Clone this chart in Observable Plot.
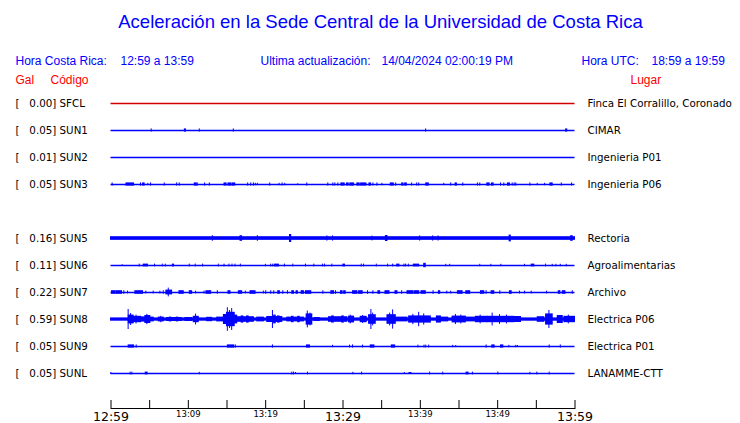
<!DOCTYPE html>
<html>
<head>
<meta charset="utf-8">
<script src="https://cdn.jsdelivr.net/npm/d3@7"></script>
<script src="https://cdn.jsdelivr.net/npm/@observablehq/plot@0.6"></script>
<style>
  html, body { margin: 0; padding: 0; background: #fff; }
  #chart { width: 740px; height: 423px; }
</style>
</head>
<body>
<div id="chart"></div>
<script>
// ---------- text ----------
const title = "Aceleración en la Sede Central de la Universidad de Costa Rica";
const horaCR = ["Hora Costa Rica:", "12:59 a 13:59"];
const update = ["Ultima actualización:", "14/04/2024 02:00:19 PM"];
const horaUTC = ["Hora UTC:", "18:59 a 19:59"];
const colHeads = ["Gal", "Código", "Lugar"];

// ---------- stations ----------
const codes  = ["SFCL", "SUN1", "SUN2", "SUN3", "SUN4", "SUN5", "SUN6", "SUN7", "SUN8", "SUN9", "SUNL"];
const peaks  = [0.00, 0.05, 0.01, 0.05, null, 0.16, 0.11, 0.22, 0.59, 0.05, 0.05];
const places = ["Finca El Corralillo, Coronado", "CIMAR", "Ingenieria P01", "Ingenieria P06", null,
                "Rectoria", "Agroalimentarias", "Archivo", "Electrica P06", "Electrica P01", "LANAMME-CTT"];

// ---------- time axis (minutes after 12:59) ----------
const tickLabels = ["12:59", "13:09", "13:19", "13:29", "13:39", "13:49", "13:59"];
const tickMinutes = [0, 5, 10, 15, 20, 25, 30, 35, 40, 45, 50, 55, 60];

// ---------- trace bursts: [start min, end min, half amplitude (Gal)] ----------
const sfcl = [];
const sun1 = [[5.26,5.26,.08],[9.55,9.7,.08],[11.48,11.48,.08],[15.88,15.88,.08],[40.75,40.75,.08],[58.85,59.0,.08]];
const sun2 = [];
const sun3 = [[0.21,0.21,.08],[2.0,2.98,.08],[3.88,3.88,.08],[4.15,4.35,.08],[4.83,4.83,.06],[5.18,5.18,.08],
  [6.95,6.95,.08],[8.55,8.55,.08],[8.89,8.89,.08],[10.83,11.09,.08],[11.22,11.22,.08],[12.17,12.17,.08],
  [12.78,12.78,.08],[14.68,14.94,.08],[15.19,15.54,.08],[15.71,16.06,.08],[17.74,17.74,.08],[18.13,18.13,.08],
  [18.48,18.48,.08],[18.73,18.73,.06],[18.99,18.99,.06],[20.59,20.59,.08],[21.8,21.8,.06],[22.19,22.19,.08],
  [22.53,22.53,.06],[24.22,24.22,.04],[25.38,25.38,.08],[28.1,28.1,.08],[28.75,28.75,.08],[29.01,29.01,.08],
  [29.4,29.4,.08],[29.79,30.22,.08],[30.52,30.74,.08],[30.95,31.43,.08],[31.86,32.16,.08],[32.34,33.03,.08],
  [33.42,33.63,.08],[33.93,33.93,.08],[34.45,34.45,.08],[35.1,35.1,.06],[36.18,36.57,.08],[36.87,36.87,.08],
  [37.65,37.82,.08],[38.03,38.25,.08],[38.94,38.94,.08],[39.59,39.59,.08],[39.85,39.85,.08],[40.76,41.1,.08],
  [43.09,43.09,.06],[43.99,43.99,.08],[44.56,44.73,.08],[45.55,45.55,.08],[47.45,47.45,.08],[47.75,47.75,.08],
  [48.66,48.96,.08],[49.26,49.48,.08],[50.43,50.43,.08],[50.86,50.86,.08],[51.33,51.59,.08],[51.94,51.94,.08],
  [52.2,52.2,.08],[52.41,52.41,.08],[54.23,54.23,.08],[55.18,55.18,.06],[56.13,56.13,.06],[56.82,57.12,.08],
  [58.29,58.29,.08],[59.62,59.62,.08]];
const sun4 = null;
const sun5 = [[0,60,.09],[13.17,13.17,.14],[16.75,16.95,.14],[18.99,18.99,.14],[23.15,23.3,.2],[27.98,27.98,.13],
  [28.71,28.71,.13],[33.8,33.8,.12],[35.55,35.75,.15],[39.98,39.98,.13],[41.66,41.66,.13],[42.35,42.35,.13],
  [51.55,51.7,.17],[59.5,59.7,.14]];
const sun6 = [[1.51,1.51,.04],[3.71,3.71,.07],[4.23,4.79,.07],[5.7,5.7,.07],[6.69,6.69,.07],[7.08,7.08,.07],
  [8.0,8.15,.07],[10.19,10.19,.07],[10.96,10.96,.07],[11.91,11.91,.07],[13.94,13.94,.07],[14.68,14.68,.07],
  [15.32,15.32,.07],[15.71,15.71,.07],[16.1,16.1,.07],[16.79,16.79,.07],[20.03,20.03,.06],[20.72,20.72,.07],
  [20.98,20.98,.07],[21.2,21.71,.07],[22.49,22.49,.07],[23.57,23.57,.07],[25.21,25.21,.07],[26.29,26.29,.07],
  [27.41,27.41,.07],[27.67,27.67,.07],[28.62,28.62,.07],[30.05,30.26,.07],[32.42,32.42,.07],[32.72,32.72,.07],
  [34.37,34.37,.07],[35.83,35.83,.07],[36.48,36.48,.07],[37.0,37.3,.07],[37.95,37.95,.07],[38.16,38.16,.07],
  [38.51,38.51,.07],[39.16,39.85,.07],[40.5,40.7,.11],[43.35,43.35,.06],[43.86,43.86,.06],[47.75,47.75,.06],
  [49.18,49.18,.06],[50.47,50.47,.06],[53.54,53.54,.06],[54.4,54.74,.07],[56.26,56.26,.07],[57.12,57.12,.06],
  [57.59,57.59,.06],[58.16,58.16,.06],[58.93,58.93,.06]];
const sun7 = [[0.13,0.56,.09],[0.69,1.42,.09],[1.72,1.72,.09],[2.2,2.2,.07],[3.15,4.14,.09],[4.57,4.57,.07],
  [5.52,5.52,.07],[6.39,6.39,.07],[6.82,6.82,.09],[7.16,7.9,.12],[7.47,7.47,.22],[8.85,9.41,.09],[10.19,10.49,.09],
  [11.01,11.01,.07],[12.09,12.09,.07],[12.34,12.95,.09],[13.81,13.81,.09],[15.19,15.45,.09],[16.53,16.96,.09],
  [17.44,17.44,.07],[18.04,18.69,.09],[19.77,19.77,.07],[20.07,20.07,.09],[20.72,20.72,.09],[21.11,21.11,.09],
  [21.63,21.84,.09],[22.28,22.28,.09],[22.88,22.88,.09],[23.44,23.66,.09],[24.0,24.17,.09],[24.65,24.95,.09],
  [25.2,25.9,.09],[27.46,27.46,.09],[28.49,28.84,.09],[29.1,29.1,.09],[29.74,29.95,.09],[30.15,30.35,.09],
  [31.3,31.86,.09],[32.08,32.55,.09],[33.24,33.24,.09],[33.93,33.93,.09],[34.58,34.8,.09],[35.49,36.01,.09],
  [36.78,37.04,.09],[37.65,37.65,.09],[38.34,39.12,.09],[39.29,39.85,.09],[40.15,40.71,.09],[41.71,41.71,.09],
  [42.4,42.57,.09],[43.48,43.48,.07],[43.99,43.99,.07],[44.86,45.46,.09],[45.94,46.45,.09],[47.84,48.27,.09],
  [48.57,48.57,.09],[49.22,49.56,.09],[50.34,50.34,.09],[51.59,51.81,.09],[52.89,52.89,.07],[53.54,53.54,.07],
  [54.4,54.4,.07],[56.39,56.39,.07],[57.9,58.11,.09],[58.42,58.76,.09],[59.71,59.71,.09]];
const sun8 = [[0,60,.08],[2.28,2.28,.5],[2.3,2.93,.22],[2.6,2.6,.3],[2.93,3.9,.16],[3.3,3.3,.22],[3.9,4.44,.13],
  [4.44,5.09,.2],[4.7,4.7,.26],[5.09,5.52,.12],[6.17,6.82,.12],[6.5,6.5,.16],[7.25,9.19,.1],[7.6,7.8,.12],
  [8.5,8.7,.12],[9.62,10.49,.1],[10.7,11.35,.16],[11.0,11.0,.27],[12.43,13.08,.11],[13.73,14.6,.12],
  [14.6,15.0,.25],[15.0,16.0,.36],[16.0,16.32,.22],[15.11,15.11,.59],[15.67,15.67,.55],[15.4,15.4,.45],
  [16.32,18.48,.14],[16.9,17.1,.18],[17.6,17.8,.18],[18.91,19.77,.12],[20.2,22.15,.15],[20.94,20.94,.45],
  [21.1,21.3,.22],[21.6,21.8,.18],[22.79,24.95,.12],[23.4,23.6,.16],[24.2,24.4,.16],[25.3,26.03,.28],
  [25.45,25.45,.42],[25.8,25.8,.32],[26.3,27.0,.1],[28.19,29.49,.14],[28.6,28.8,.18],[29.6,30.57,.14],
  [29.9,30.1,.18],[30.78,31.43,.17],[31.0,31.0,.22],[32.29,33.07,.16],[32.6,32.6,.2],[33.37,34.24,.24],
  [33.67,33.67,.5],[33.9,33.9,.32],[35.75,36.83,.24],[36.48,36.48,.48],[36.1,36.1,.32],[36.83,38.34,.12],
  [38.55,41.36,.18],[39.85,39.85,.36],[39.1,39.1,.26],[40.5,40.5,.28],[42.14,42.66,.18],[42.66,43.6,.12],
  [44.17,45.89,.17],[44.6,44.6,.25],[45.3,45.3,.22],[46.0,47.19,.12],[47.19,48.7,.16],[47.8,47.8,.22],
  [48.7,52.15,.16],[49.35,49.35,.32],[50.3,50.3,.24],[51.2,51.2,.22],[52.15,53.02,.15],[55.18,56.04,.14],
  [56.26,57.12,.28],[56.69,56.69,.45],[57.77,58.42,.2],[58.63,60,.16],[59.2,59.2,.22]];
const sun9 = [[2.28,2.98,.08],[3.32,3.32,.08],[15.11,15.93,.08],[16.14,16.14,.08],[20.94,20.94,.08],
  [25.34,25.73,.08],[28.71,28.71,.06],[30.91,30.91,.07],[31.3,31.3,.08],[32.59,32.59,.07],[33.59,34.06,.08],
  [36.31,36.74,.08],[39.76,39.76,.07],[40.54,40.54,.07],[40.76,40.76,.07],[41.14,41.14,.07],[44.25,44.25,.06],
  [44.64,44.64,.05],[48.57,48.57,.08],[49.3,49.61,.08],[50.43,50.73,.08],[51.51,51.51,.06],[52.41,52.41,.06],
  [52.63,52.63,.05],[56.73,56.73,.08],[58.16,58.16,.08]];
const sunl = [[0.04,0.04,.05],[2.54,2.54,.07],[2.76,2.76,.07],[4.49,4.74,.07],[11.48,11.48,.06],[23.44,23.44,.07],
  [23.66,23.66,.07],[23.92,23.92,.05],[25.47,25.47,.07],[31.34,31.34,.06],[32.47,32.47,.07],[37.99,37.99,.05],
  [38.6,38.85,.05],[41.27,41.27,.07],[42.96,42.96,.07],[45.98,46.24,.07],[46.8,46.8,.07],[50.08,50.08,.07],
  [54.23,54.23,.06],[55.13,55.13,.07],[56.73,56.73,.07]];

const traces = [sfcl, sun1, sun2, sun3, sun4, sun5, sun6, sun7, sun8, sun9, sunl];

// ---------- build tables ----------
const stations = codes.map((code, i) => ({row: i, code, peak: peaks[i], place: places[i], trace: traces[i]}))
  .filter(d => d.trace !== null);
const bursts = stations.flatMap(s => s.trace.map(([t0, t1, a]) => ({row: s.row, code: s.code, t0, t1, a})));
const labels = tickLabels.map((text, i) => ({text, minute: i * 10, major: i % 3 === 0}));

// ---------- styles ----------
const BLUE = "#0000ff", RED = "#ff0000", TRACE_RED = "#d00000";
const GAIN = 20 / 27;          // rows per Gal
const ML = 110.5, MR = 165.5, MT = 90, MB = 15;
const SANS = "Liberation Sans, Arial, sans-serif";
const DJ = "DejaVu Sans, sans-serif";
const nb = "\u00a0";
const traceColor = d => d.code === "SFCL" ? TRACE_RED : BLUE;

function note(text, x, y, fill, size = 12, anchor = "start") {
  return Plot.text([text], {
    text: d => d, frameAnchor: "top-left", dx: x - ML, dy: y - MT, lineAnchor: "middle",
    textAnchor: anchor, fill, fontSize: size, fontFamily: SANS
  });
}

const chart = Plot.plot({
  width: 740, height: 423,
  marginLeft: ML, marginRight: MR, marginTop: MT, marginBottom: MB,
  style: {background: "#fff", fontFamily: DJ, fontSize: "10px", overflow: "visible"},
  x: {domain: [0, 60], axis: null},
  y: {domain: [0, codes.length - 1], range: [103, 373], axis: null},
  marks: [
    // titles
    note(title, 380, 22, BLUE, 18.5, "middle"),
    note(horaCR[0], 15, 61, BLUE), note(horaCR[1], 120, 61, BLUE),
    note(update[0], 260, 61, BLUE), note(update[1], 381, 61, BLUE),
    note(horaUTC[0], 581, 61, BLUE), note(horaUTC[1], 651, 61, BLUE),
    note(colHeads[0], 15, 80, RED), note(colHeads[1], 50, 80, RED), note(colHeads[2], 630, 80, RED),
    // trace baselines
    Plot.ruleY(stations, {y: "row", stroke: traceColor, strokeWidth: 1.3}),
    // trace bursts
    Plot.rect(bursts, {
      x1: "t0", x2: "t1",
      y1: d => d.row - d.a * GAIN, y2: d => d.row + d.a * GAIN,
      fill: traceColor, insetLeft: -0.5, insetRight: -0.5
    }),
    // left labels
    Plot.text(stations, {
      y: "row", frameAnchor: "left", dx: 15 - ML, textAnchor: "start", lineAnchor: "middle",
      text: d => `[${nb}${nb}${nb}${d.peak.toFixed(2)}] ${d.code}`,
      fill: "black", fontSize: 10.3, fontFamily: DJ
    }),
    // right labels
    Plot.text(stations, {
      y: "row", frameAnchor: "right", dx: 12.5, textAnchor: "start", lineAnchor: "middle",
      text: "place", fill: "black", fontSize: 10.3, fontFamily: DJ
    }),
    // time axis
    Plot.frame({anchor: "bottom", stroke: "black"}),
    Plot.ruleX(tickMinutes, {x: d => d, insetTop: 310, stroke: "black"}),
    Plot.text(labels.filter(d => d.major), {x: "minute", text: "text", frameAnchor: "bottom", lineAnchor: "middle", dy: 8, fontSize: 12.5, fontFamily: DJ, fill: "black"}),
    Plot.text(labels.filter(d => !d.major), {x: "minute", text: "text", frameAnchor: "bottom", lineAnchor: "middle", dy: 5.5, fontSize: 8.5, fontFamily: DJ, fill: "black"})
  ]
});
document.getElementById("chart").appendChild(chart);
</script>
</body>
</html>
